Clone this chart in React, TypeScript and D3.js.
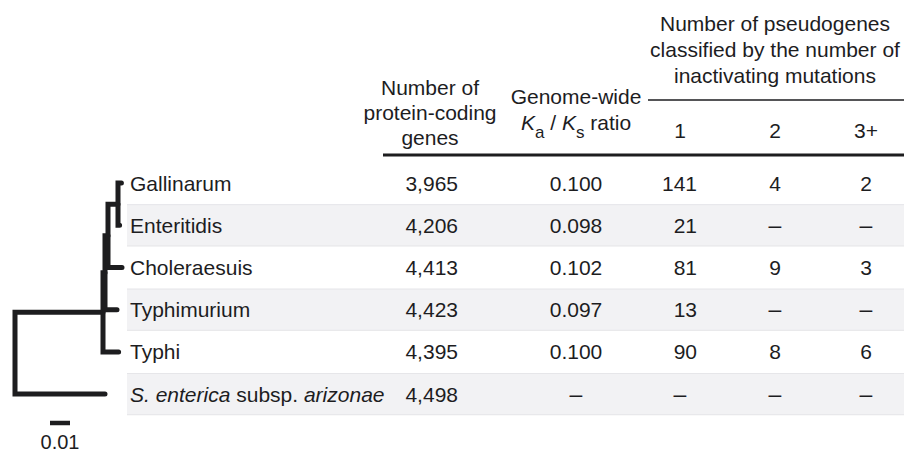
import React from 'react'
import * as d3 from 'd3'

const strains = ['Gallinarum', 'Enteritidis', 'Choleraesuis', 'Typhimurium', 'Typhi', 'arizonae']
const proteinCodingGenes = [3965, 4206, 4413, 4423, 4395, 4498]
const kaKsRatio: (number | null)[] = [0.1, 0.098, 0.102, 0.097, 0.1, null]
const pseudo1: (number | null)[] = [141, 21, 81, 13, 90, null]
const pseudo2: (number | null)[] = [4, null, 9, null, 8, null]
const pseudo3: (number | null)[] = [2, null, 3, null, 6, null]
const mutationLabels = ['1', '2', '3+']

// tree: node ids, parents and branch lengths (substitutions per site)
const treeIds = ['root', 'n4', 'arizonae', 'n3', 'Typhi', 'n2', 'Typhimurium', 'n1', 'Choleraesuis', 'Gallinarum', 'Enteritidis']
const treeParents = ['', 'root', 'root', 'n4', 'n4', 'n3', 'n3', 'n2', 'n2', 'n1', 'n1']
const branchLengths = [0, 0.044, 0.045, 0.001, 0.0078, 0.0015, 0.006, 0.005, 0.007, 0.0017, 0.0008]
const scaleBarValue = 0.01

const W = 904
const H = 452
const FONT = '"Liberation Sans", Arial, Helvetica, sans-serif'
const INK = '#1d1d1f'

const fmtInt = d3.format(',')
const fmtRatio = d3.format('.3f')
const DASH = '\u2013'

const App = () => {
  const y = d3.scaleBand().domain(strains).range([162, 162 + 6 * 42.2])
  const bw = y.bandwidth()
  const rowY = (name: string) => (y(name) as number) + bw / 2

  const x = d3.scaleLinear().domain([0, 0.01]).range([15, 35])

  const table = treeIds.map((id, i) => ({ id, parent: treeParents[i], len: branchLengths[i] }))
  const root = d3
    .stratify<any>()
    .id((d) => d.id)
    .parentId((d) => d.parent || null)(table)

  // cumulative distance from root
  root.eachBefore((n: any) => {
    n.dist = n.parent ? n.parent.dist + n.data.len : 0
  })
  // y: leaves at their rows, internal nodes at mean of children
  root.eachAfter((n: any) => {
    n.py = n.children ? d3.mean(n.children, (c: any) => c.py) : rowY(n.id)
  })

  // one elbow path per internal node: first child -> node vertical -> last child
  const elbows: string[] = []
  root.each((n: any) => {
    if (!n.children) return
    const kids = [...n.children].sort((a: any, b: any) => a.py - b.py)
    const a = kids[0]
    const b = kids[kids.length - 1]
    const px = x(n.dist)
    elbows.push(`M${x(a.dist)},${a.py}H${px}V${b.py}H${x(b.dist)}`)
  })

  const cols = [
    { x: 458, anchor: 'end', values: proteinCodingGenes, fmt: fmtInt },
    { x: 576, anchor: 'middle', values: kaKsRatio, fmt: fmtRatio },
    { x: 697, anchor: 'end', dashX: 680, values: pseudo1, fmt: fmtInt },
    { x: 775, anchor: 'middle', values: pseudo2, fmt: fmtInt },
    { x: 866, anchor: 'middle', values: pseudo3, fmt: fmtInt },
  ]
  const mutationX = [680, 775, 866]

  return (
    <svg width={W} height={H} style={{ position: 'absolute', left: 0, top: 0, background: '#fff' }} fontFamily={FONT} fontSize={21} fill={INK}>
      {strains.map((s, i) =>
        i % 2 === 1 ? (
          <g key={s}>
            <rect x={127} y={y(s)} width={W - 127} height={bw} fill="#f2f2f4" />
            <line x1={127} x2={W} y1={(y(s) as number) + 0.5} y2={(y(s) as number) + 0.5} stroke="#e6e6e9" />
            <line x1={127} x2={W} y1={(y(s) as number) + bw - 0.5} y2={(y(s) as number) + bw - 0.5} stroke="#e6e6e9" />
          </g>
        ) : null
      )}

      <g fill="none" stroke={INK} strokeWidth={5} strokeLinecap="round" strokeLinejoin="miter">
        {elbows.map((d, i) => (
          <path key={i} d={d} />
        ))}
      </g>

      <line x1={x(0) + 35} x2={x(scaleBarValue) + 35} y1={423} y2={423} stroke={INK} strokeWidth={4.5} />
      <text x={(x(0) + x(scaleBarValue)) / 2 + 35} y={449} textAnchor="middle" fontSize={20}>
        {scaleBarValue}
      </text>

      {strains.map((s) => (
        <text key={s} x={130} y={rowY(s) + 7.5}>
          {s === 'arizonae' ? (
            <>
              <tspan fontStyle="italic">S. enterica</tspan>
              <tspan> subsp. </tspan>
              <tspan fontStyle="italic">arizonae</tspan>
            </>
          ) : (
            s
          )}
        </text>
      ))}

      {cols.map((c, ci) =>
        strains.map((s, i) => {
          const v = c.values[i]
          const isDash = v === null
          return (
            <text
              key={ci + '-' + i}
              x={isDash ? c.dashX ?? c.x : c.x}
              y={rowY(s) + 7.5}
              textAnchor={isDash ? 'middle' : c.anchor}
              fontSize={isDash ? 23 : 21}
            >
              {isDash ? DASH : c.fmt(v as number)}
            </text>
          )
        })
      )}

      <g textAnchor="middle">
        <text x={430} y={95}>Number of</text>
        <text x={430} y={120}>protein-coding</text>
        <text x={430} y={145}>genes</text>

        <text x={576} y={104}>Genome-wide</text>
        <text x={576} y={130}>
          <tspan fontStyle="italic">K</tspan>
          <tspan dy={8} fontSize={17}>a</tspan>
          <tspan dy={-8}> / </tspan>
          <tspan fontStyle="italic">K</tspan>
          <tspan dy={8} fontSize={17}>s</tspan>
          <tspan dy={-8}> ratio</tspan>
        </text>

        <text x={775} y={31}>Number of pseudogenes</text>
        <text x={775} y={57}>classified by the number of</text>
        <text x={775} y={83}>inactivating mutations</text>

        {mutationLabels.map((m, i) => (
          <text key={m} x={mutationX[i]} y={138}>
            {m}
          </text>
        ))}
      </g>

      <line x1={648} x2={W} y1={100} y2={100} stroke={INK} strokeWidth={1.5} />
      <line x1={383} x2={W} y1={155} y2={155} stroke={INK} strokeWidth={3} />
    </svg>
  )
}

export default App
